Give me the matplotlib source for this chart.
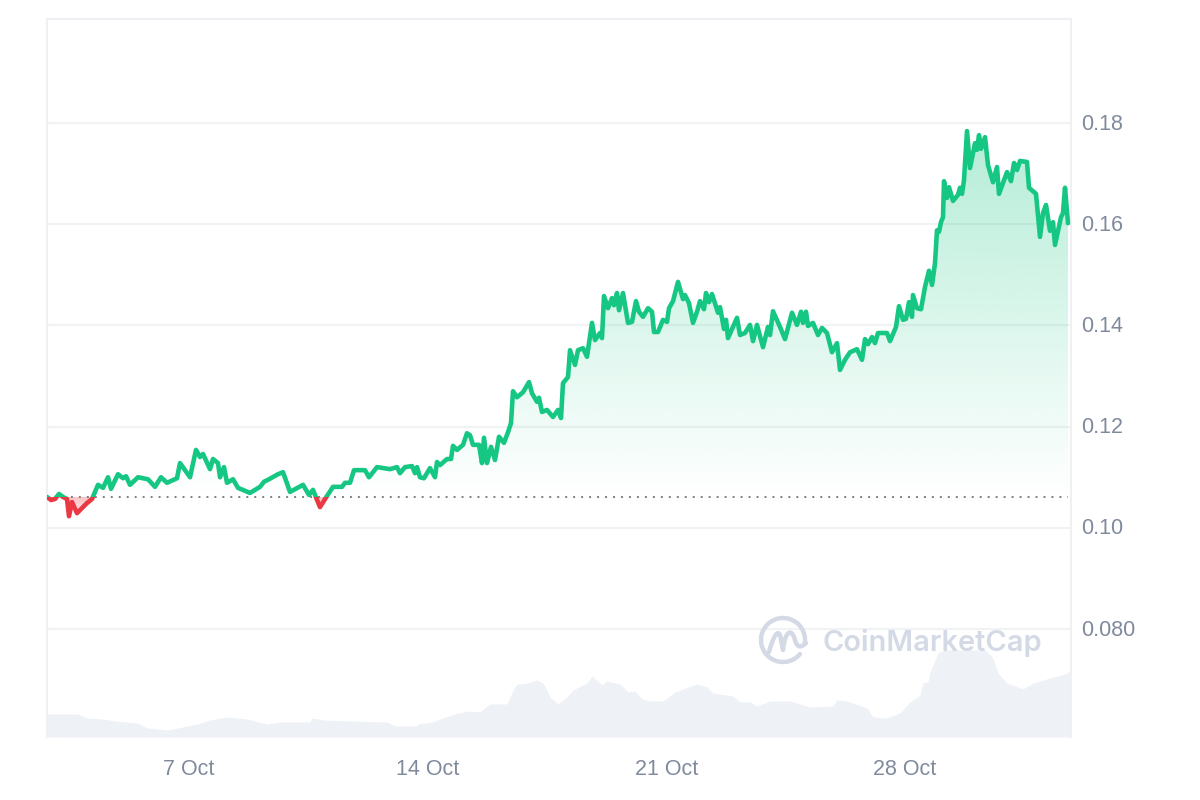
import numpy as np
import matplotlib
matplotlib.use("Agg")
import matplotlib.pyplot as plt
from matplotlib.path import Path
from matplotlib.patches import Arc, PathPatch
from matplotlib.transforms import ScaledTranslation

# Time stamps are feed sample numbers (about 34.1 samples a day; 7 Oct = sample 189)
price_samples = [47,51,55,59,63,67,69,72,77,82,87,92,98,103,108,111,118,123,126,130,138,148,155,161,167,177,180,190,196,200,203,210,213,218,220,224,227,233,238,250,260,264,269,278,283,290,303,309,313,320,327,333,342,345,350,354,365,369,377,390,397,400,405,412,415,417,420,424,430,435,437,440,447,451,453,457,463,467,470,473,479,482,484,487,491,495,499,504,508,511,513,517,523,529,532,537,539,542,547,553,558,561,563,568,570,575,578,583,587,592,595,600,602,604,608,612,614,617,619,623,628,632,636,639,643,648,652,654,658,663,667,669,673,678,683,685,689,693,697,700,704,706,709,712,718,720,724,726,728,737,740,745,750,753,757,763,768,770,773,780,785,792,797,801,803,806,808,813,818,822,827,832,837,840,845,850,857,862,865,868,872,875,878,887,890,896,899,903,906,909,912,913,917,921,925,929,932,935,937,939,941,943,944,947,949,953,958,960,962,964,967,970,975,977,979,981,985,988,993,997,999,1007,1011,1014,1017,1020,1027,1029,1036,1040,1043,1046,1050,1053,1055,1061,1063,1065,1068]
prices = [.1061,.1055,.1057,.1067,.1061,.1057,.1023,.1051,.1029,.1039,.1049,.1057,.1085,.1079,.1100,.1077,.1106,.1098,.1102,.1085,.1100,.1096,.1081,.1100,.1089,.1098,.1128,.1100,.1154,.1140,.1146,.1116,.1136,.1128,.1100,.1120,.1089,.1096,.1079,.1069,.1081,.1091,.1096,.1106,.1110,.1071,.1085,.1065,.1075,.1041,.1063,.1081,.1081,.1089,.1089,.1114,.1114,.1100,.1120,.1116,.1120,.1108,.1120,.1122,.1108,.1120,.1100,.1098,.1118,.1100,.1130,.1124,.1136,.1136,.1162,.1154,.1164,.1187,.1183,.1164,.1164,.1128,.1178,.1128,.1160,.1134,.1180,.1168,.1189,.1207,.1270,.1258,.1268,.1288,.1266,.1249,.1257,.1229,.1233,.1219,.1233,.1217,.1286,.1298,.1351,.1322,.1351,.1355,.1338,.1405,.1371,.1385,.1375,.1458,.1434,.1454,.1440,.1464,.1430,.1464,.1405,.1407,.1448,.1427,.1417,.1434,.1427,.1387,.1387,.1411,.1407,.1434,.1448,.1486,.1452,.1460,.1444,.1405,.1427,.1448,.1432,.1464,.1446,.1462,.1425,.1436,.1393,.1411,.1375,.1415,.1381,.1385,.1401,.1369,.1401,.1357,.1397,.1381,.1428,.1397,.1373,.1425,.1401,.1427,.1405,.1427,.1399,.1405,.1381,.1395,.1385,.1347,.1365,.1312,.1332,.1347,.1353,.1332,.1373,.1363,.1377,.1365,.1385,.1385,.1369,.1397,.1438,.1411,.1413,.1446,.1417,.1460,.1434,.1432,.1476,.1508,.1480,.1523,.1588,.1585,.1604,.1614,.1685,.1652,.1673,.1646,.1658,.1672,.1660,.1687,.1784,.1711,.1760,.1747,.1776,.1749,.1772,.1717,.1683,.1713,.1660,.1703,.1685,.1721,.1707,.1725,.1723,.1672,.1660,.1575,.1622,.1638,.1587,.1604,.1559,.1614,.1622,.1672,.1602]
volume_samples = [47,78,87,103,115,137,147,168,178,197,210,227,247,267,280,310,312,323,350,387,395,417,418,433,443,455,468,480,487,490,507,513,517,528,537,543,550,558,567,573,587,592,602,607,620,628,635,642,650,663,675,697,707,713,733,740,750,757,770,790,810,833,837,847,867,873,887,900,910,920,923,928,930,938,945,985,993,998,1007,1023,1033,1050,1062,1071]
volumes_musd = [230,230,190,180,160,140,90,70,90,130,170,200,180,130,150,150,190,170,160,150,110,110,130,150,190,230,260,250,310,330,330,470,530,540,570,540,400,330,400,470,540,610,520,560,530,450,460,380,360,360,450,530,500,440,410,350,350,310,360,360,300,310,370,360,290,200,190,240,350,420,540,550,650,840,870,870,790,640,540,480,540,590,620,660]
tick_days = [7, 14, 21, 28]
tick_labels = ["7 Oct", "14 Oct", "21 Oct", "28 Oct"]
price_ticks = [0.08, 0.10, 0.12, 0.14, 0.16, 0.18]
price_tick_labels = ["0.080", "0.10", "0.12", "0.14", "0.16", "0.18"]
open_price = 0.1061

GREEN, RED = "#16C784", "#EA3943"
GRID, TEXT, VOL, MARK = "#F1F2F4", "#808A9D", "#EEF1F5", "#D3DAE6"
SAMPLES_PER_DAY, DAY7_SAMPLE = 34.1, 189
to_day = lambda s: 7 + (np.asarray(s, float) - DAY7_SAMPLE) / SAMPLES_PER_DAY

plt.rcParams["font.family"] = ["Liberation Sans", "DejaVu Sans"]
fig = plt.figure(figsize=(12, 8), dpi=100, facecolor="white")
rect = [47 / 1200, 63 / 800, 1024 / 1200, 718 / 800]
xlim = (float(to_day(47)), float(to_day(1071)))
ylim = (0.05867, 0.20055)

vol_ax = fig.add_axes(rect, zorder=0)
vol_ax.set_xlim(xlim); vol_ax.set_ylim(0, 7180); vol_ax.axis("off")
vol_ax.fill_between(to_day(volume_samples), volumes_musd, 0, color=VOL, lw=0)

ax = fig.add_axes(rect, zorder=1)
ax.patch.set_visible(False)
days = to_day(price_samples)
price = np.array(prices)

def gradient_fill(mask_up, rgb, a_lo, a_hi, y0, y1):
    coll = ax.fill_between(days, price, open_price, where=mask_up, interpolate=True, alpha=0)
    clip = Path.make_compound_path(*coll.get_paths())
    img = np.zeros((256, 2, 4))
    img[..., :3] = matplotlib.colors.to_rgb(rgb)
    img[..., 3] = np.linspace(a_lo, a_hi, 256)[:, None]
    im = ax.imshow(img, extent=[xlim[0], xlim[1], y0, y1], origin="lower", aspect="auto", zorder=2, interpolation="bilinear")
    im.set_clip_path(clip, ax.transData)

gradient_fill(price >= open_price, GREEN, 0.0, 0.32, open_price, 0.1784)
gradient_fill(price <= open_price, RED, 0.32, 0.10, open_price, 0.1023)

ax.set_xlim(xlim); ax.set_ylim(ylim)
ax.set_axisbelow(True)
ax.grid(axis="y", color=GRID, lw=1.5, zorder=1)

ax.plot([days[0], days[-1]], [open_price, open_price], color="#808080", lw=1.4, ls=(0, (1, 3.1)), zorder=3)

for col, y0, y1 in ((GREEN, open_price, ylim[1]), (RED, ylim[0], open_price)):
    ln, = ax.plot(days, price, color=col, lw=3.3, solid_joinstyle="round", solid_capstyle="round", zorder=4)
    r = plt.Rectangle((xlim[0], y0), xlim[1] - xlim[0], y1 - y0, transform=ax.transData)
    ln.set_clip_path(r)

ax.set_xticks(tick_days, tick_labels)
ax.yaxis.tick_right()
ax.set_yticks(price_ticks, price_tick_labels)
ax.tick_params(axis="both", length=0, labelsize=15.5, labelcolor=TEXT)
ax.tick_params(axis="x", pad=16)
ax.tick_params(axis="y", pad=7.5)
shift_up = ScaledTranslation(0, 1 / 72, fig.dpi_scale_trans)
for lab in ax.get_yticklabels():
    lab.set_transform(lab.get_transform() + shift_up)
for s in ("left", "right", "top"):
    ax.spines[s].set_color("#EEF0F3"); ax.spines[s].set_linewidth(1.5)
ax.spines["bottom"].set_visible(False)

# Watermark, placed on a canvas-sized overlay
ov = fig.add_axes([0, 0, 1, 1], zorder=3)
ov.set_xlim(0, 1200); ov.set_ylim(800, 0); ov.axis("off")
ov.add_patch(Arc((783, 640), 44, 44, theta1=40, theta2=370, color=MARK, lw=3.2, capstyle="round"))
m = Path([(769, 652), (775, 630), (780, 629), (781, 640), (783, 650), (785, 630), (792, 628), (795, 640), (797, 648), (801, 648), (806, 643)],
         [Path.MOVETO, Path.CURVE4, Path.CURVE4, Path.CURVE4, Path.LINETO, Path.CURVE4, Path.CURVE4, Path.CURVE4, Path.CURVE4, Path.CURVE4, Path.CURVE4])
ov.add_patch(PathPatch(m, fill=False, ec=MARK, lw=3.2, capstyle="round", joinstyle="round"))
ov.text(822, 643, "CoinMarketCap", family="Inter", weight="semibold", fontsize=20.9, color=MARK, va="center", ha="left")

fig.savefig("out.png", dpi=100)
